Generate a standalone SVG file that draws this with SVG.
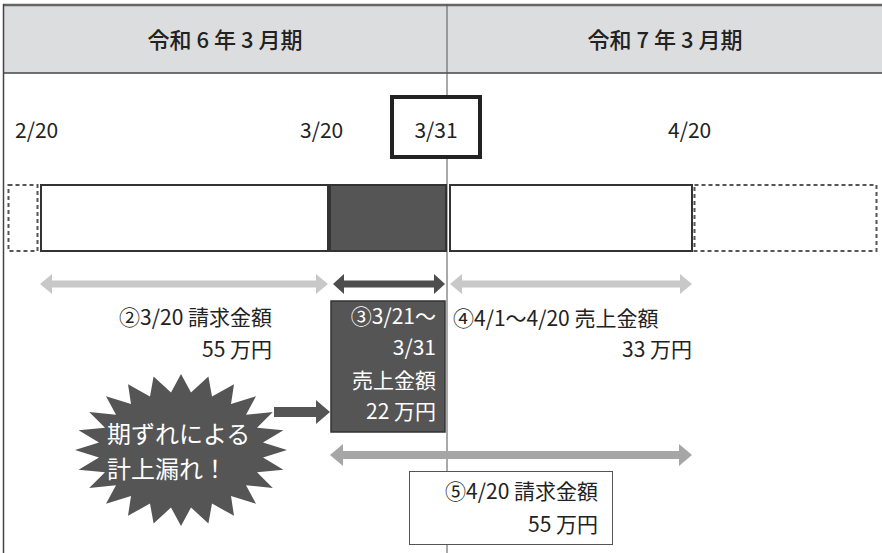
<svg xmlns="http://www.w3.org/2000/svg" width="882" height="553" viewBox="0 0 882 553">
<style>
text{font-family:"Noto Sans CJK JP","Noto Sans",sans-serif;fill:#222;}
.h{font-size:22px;font-weight:500;text-anchor:middle;}
.d{font-size:21px;}
.t{font-size:21px;}
.w{fill:#fff;}
.r{text-anchor:end;}
.dash{fill:#fff;stroke:#555;stroke-width:2;stroke-dasharray:4 3;}
.solid{fill:#fff;stroke:#333;stroke-width:2;}
</style>
<rect x="0" y="0" width="882" height="553" fill="#fff"/>
<g id="header">
<rect x="3" y="4" width="879" height="69" fill="#dcdddf"/>
<line x1="3" y1="5" x2="882" y2="5" stroke="#666" stroke-width="2.5"/>
<line x1="3" y1="73" x2="882" y2="73" stroke="#444" stroke-width="1.5"/>
<text class="h" x="225" y="48">令和 6 年 3 月期</text>
<text class="h" x="665" y="48">令和 7 年 3 月期</text>
</g>
<g id="frame">
<line x1="3.5" y1="4" x2="3.5" y2="553" stroke="#444" stroke-width="1.5"/>
<line x1="447" y1="4" x2="447" y2="553" stroke="#555" stroke-width="1"/>
</g>
<g id="dates">
<text class="d" x="15" y="138">2/20</text>
<text class="d" x="300" y="138">3/20</text>
<text class="d" x="668" y="138">4/20</text>
</g>
<g id="box331">
<rect x="392" y="97" width="88" height="60" fill="#fff" stroke="#222" stroke-width="4"/>
<text class="d" x="436" y="138" text-anchor="middle">3/31</text>
</g>
<g id="bars">
<rect class="dash" x="8.5" y="185" width="29" height="66"/>
<rect class="solid" x="41" y="185" width="287" height="66"/>
<rect x="330" y="185" width="116" height="66" fill="#555" stroke="#333" stroke-width="2"/>
<rect class="solid" x="450" y="185" width="242" height="66"/>
<rect class="dash" x="694.5" y="185" width="182" height="66"/>
</g>
<g id="connectors">
<polygon fill="#c8c8c8" points="40,284 52,274 52,280.5 316,280.5 316,274 328,284 316,294 316,287.5 52,287.5 52,294"/>
<polygon fill="#4d4d4d" points="333,284 344,274 344,280.5 434,280.5 434,274 445,284 434,294 434,287.5 344,287.5 344,294"/>
<polygon fill="#c8c8c8" points="450,284 462,274 462,280.5 680,280.5 680,274 692,284 680,294 680,287.5 462,287.5 462,294"/>
<polygon fill="#a6a6a6" points="330,455 343,444 343,451 679,451 679,444 692,455 679,466 679,459 343,459 343,466"/>
<polygon fill="#555" points="274,407 316,407 316,400 330,412 316,424 316,417 274,417"/>
</g>
<g id="label2">
<text class="t r" x="272" y="325">②3/20 請求金額</text>
<text class="t r" x="272" y="357">55 万円</text>
</g>
<g id="box3">
<rect x="331" y="301" width="114" height="131" fill="#555" stroke="#333" stroke-width="1.5"/>
<text class="t r w" x="436" y="324">③3/21～</text>
<text class="t r w" x="436" y="355">3/31</text>
<text class="t r w" x="436" y="388">売上金額</text>
<text class="t r w" x="436" y="419">22 万円</text>
</g>
<g id="label4">
<text class="t" x="453" y="326">④4/1～4/20 売上金額</text>
<text class="t r" x="692" y="357">33 万円</text>
</g>
<g id="burst">
<polygon fill="#555" points="287,450 263,457.6 283.4,469.7 257,472.2 272.8,488 246,485.3 256,503.7 231,496 234,515.8 212,503.6 208.4,523.4 191,507.5 181,526 171,507.5 153.6,523.4 150,503.6 128,515.8 131,496 106,503.7 116,485.3 89.2,488 105,472.2 78.6,469.7 99,457.6 75,450 99,442.4 78.6,430.3 105,427.8 89.2,412 116,414.7 106,396.3 131,404 128,384.2 150,396.4 153.6,376.6 171,392.5 181,374 191,392.5 208.4,376.6 212,396.4 234,384.2 231,404 256,396.3 246,414.7 272.8,412 257,427.8 283.4,430.3 263,442.4"/>
<text class="w" x="107" y="443" font-size="24">期ずれによる</text>
<text class="w" x="107" y="478" font-size="24">計上漏れ！</text>
</g>
<g id="box5">
<rect x="409.5" y="471.5" width="203" height="73" fill="#fff" stroke="#555" stroke-width="1"/>
<text class="t r" x="598" y="499">⑤4/20 請求金額</text>
<text class="t r" x="598" y="532">55 万円</text>
</g>
</svg>
